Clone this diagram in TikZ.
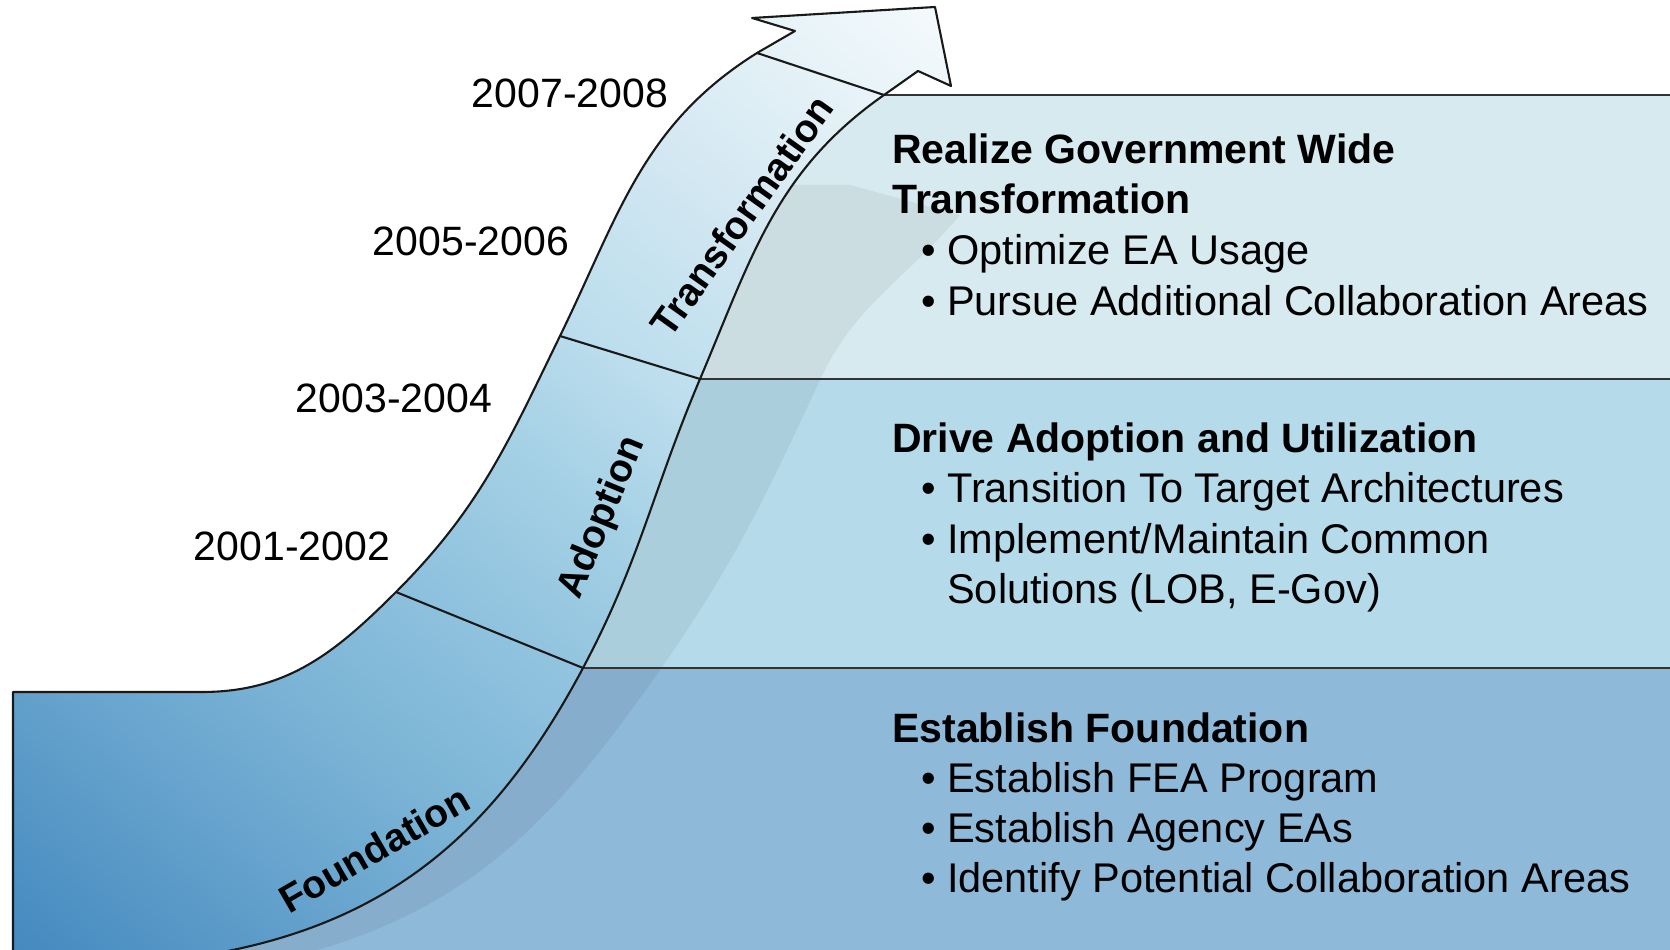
\documentclass[tikz,border=0pt]{standalone}
\usepackage{fontspec}
\setmainfont{Liberation Sans}

\definecolor{bandtop}{RGB}{215,234,239}
\definecolor{bandmid}{RGB}{181,219,234}
\definecolor{bandbot}{RGB}{142,185,216}
\definecolor{edge}{RGB}{25,25,25}

% colours of the arrow, from its foot to its tip
\pgfdeclareverticalshading{arrowshade}{100bp}{%
  rgb(0bp)=(0.27,0.54,0.75); rgb(15bp)=(0.27,0.54,0.75);
  rgb(26bp)=(0.39,0.63,0.80); rgb(36bp)=(0.49,0.71,0.84);
  rgb(44bp)=(0.56,0.76,0.87); rgb(53bp)=(0.65,0.82,0.90);
  rgb(60bp)=(0.74,0.87,0.93); rgb(70bp)=(0.83,0.91,0.95);
  rgb(78bp)=(0.90,0.95,0.97); rgb(85bp)=(0.96,0.98,0.99);
  rgb(100bp)=(0.96,0.98,0.99)}

\tikzset{
  year/.style={inner sep=0pt, font=\fontsize{41}{50}\selectfont},
  phase/.style={inner sep=0pt, font=\fontsize{39}{47}\selectfont\bfseries},
  head/.style={anchor=base west, inner sep=0pt, font=\fontsize{41}{50}\selectfont\bfseries},
  item/.style={anchor=base west, inner sep=0pt, font=\fontsize{41.5}{50}\selectfont},
  outline/.style={draw=edge, line width=2.1pt, line join=round},
  bandline/.style={draw=black!80, line width=2.3pt},
}

\begin{document}
\begin{tikzpicture}[x=1pt, y=1pt]
        \useasboundingbox (0,0) rectangle (1670,950);

        % points of the arrow
        \coordinate (boxbl) at (13,-4);
        \coordinate (boxtl) at (13,258);
        \coordinate (bend) at (202,258);
        \coordinate (d1o) at (396,358);
        \coordinate (d1i) at (583,282);
        \coordinate (d2o) at (560,614);
        \coordinate (d2i) at (700,571);
        \coordinate (d3o) at (757,897);
        \coordinate (d3i) at (884,855);
        \coordinate (notchl) at (795,919);
        \coordinate (barbl) at (752,932);
        \coordinate (tip) at (935,943);
        \coordinate (barbr) at (951,864);
        \coordinate (notchr) at (918,879);
        \coordinate (innerbot) at (212,-4);

        % right ends of the band lines
        \coordinate (e3) at (1670,855);
        \coordinate (e2) at (1670,571);
        \coordinate (e1) at (1670,282);

        % bands
        \begin{scope}
            \clip (d3i) to[out=215,in=67] (d2i) to[out=247,in=62] (d1i)
                to[out=242,in=10] (innerbot) -- (1670,-4) -- (e3) -- cycle;
            \fill[bandtop] (0,571) rectangle (1670,855);
            \fill[bandmid] (0,282) rectangle (1670,571);
            \fill[bandbot] (0,-4) rectangle (1670,282);
            \fill[black, fill opacity=0.055] (100,-5) -- (300,-5)
                to[out=15,in=235] (660,280) to[out=55,in=245] (820,570)
                to[out=65,in=230] (960,735) -- (850,765) -- (100,765) -- cycle;
        \end{scope}

        \draw[bandline] (d3i) -- (e3);
        \draw[bandline] (d2i) -- (e2);
        \draw[bandline] (d1i) -- (e1);

        % the arrow
        \draw[outline, shading=arrowshade, shading angle=-40]
            (boxbl) -- (boxtl) -- (bend)
            to[out=0,in=225] (d1o) to[out=45,in=244] (d2o) to[out=64,in=212] (d3o)
            -- (notchl) -- (barbl) -- (tip) -- (barbr) -- (notchr) -- (d3i)
            to[out=215,in=67] (d2i) to[out=247,in=62] (d1i) to[out=242,in=10] (innerbot)
            -- cycle;
        \draw[outline] (d1o) -- (d1i);
        \draw[outline] (d2o) -- (d2i);
        \draw[outline] (d3o) -- (d3i);

        \node[phase, rotate=54.5] (lbltrans) at (742,734) {Transformation};
        \node[phase, rotate=67.5] (lbladopt) at (603,432) {Adoption};
        \node[phase, rotate=30] (lblfound) at (374,101) {Foundation};

        % years
        \node[year] (yr0708) at (570,857) {2007-2008};
        \node[year] (yr0506) at (471,709) {2005-2006};
        \node[year] (yr0304) at (394,552) {2003-2004};
        \node[year] (yr0102) at (292,404) {2001-2002};

        % top band
        \node[head] (realize) at (892,786) {Realize Government Wide};
        \node[head] (realize2) at (892,736) {Transformation};
        \node[item] (optimize) at (921,685) {• Optimize EA Usage};
        \node[item] (pursue) at (921,634) {• Pursue Additional Collaboration Areas};

        % middle band
        \node[head] (drive) at (892,497) {Drive Adoption and Utilization};
        \node[item] (transition) at (921,447) {• Transition To Target Architectures};
        \node[item] (implement) at (921,396) {• Implement/Maintain Common};
        \node[item] (solutions) at (921,346) {\phantom{• }Solutions (LOB, E-Gov)};

        % bottom band
        \node[head] (establish) at (892,207) {Establish Foundation};
        \node[item] (fea) at (921,157) {• Establish FEA Program};
        \node[item] (agency) at (921,107) {• Establish Agency EAs};
        \node[item] (identify) at (921,57) {• Identify Potential Collaboration Areas};
\end{tikzpicture}
\end{document}
